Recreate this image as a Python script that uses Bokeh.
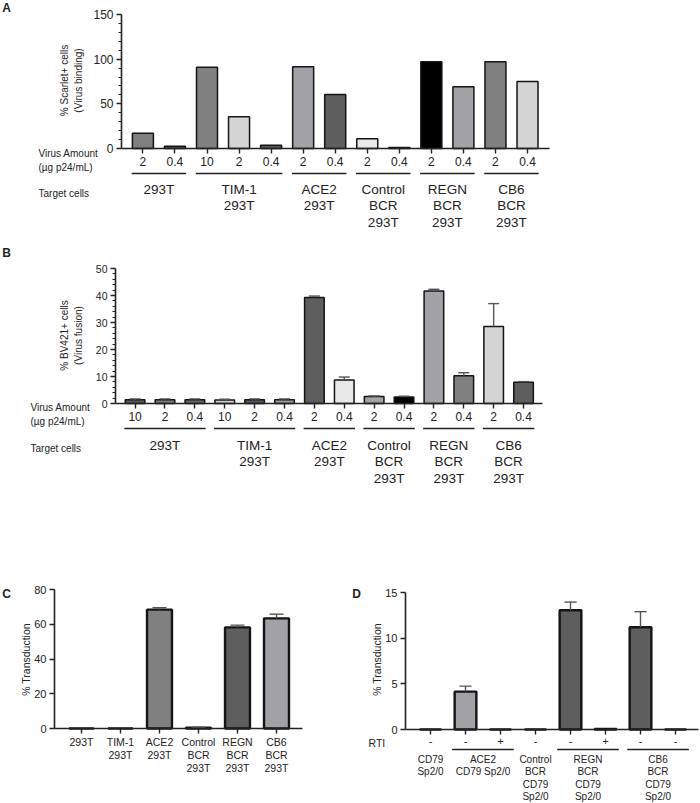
import math
from bokeh.plotting import figure
from bokeh.models import FixedTicker, Range1d, LinearAxis
from bokeh.layouts import column, row
from bokeh.embed import file_html
from bokeh.resources import INLINE
from bokeh.core.properties import value

FONT = "Liberation Sans"
INK = "#222222"
EDGE = "#141414"
WHISKER = "#555555"

# ---- Panel A: virus binding (% Scarlet+ cells) ----
amount_a = ["2", "0.4", "10", "2", "0.4", "2", "0.4", "2", "0.4", "2", "0.4", "2", "0.4"]
target_a = (["293T"] * 2 + ["TIM-1\n293T"] * 3 + ["ACE2\n293T"] * 2
            + ["Control\nBCR\n293T"] * 2 + ["REGN\nBCR\n293T"] * 2 + ["CB6\nBCR\n293T"] * 2)
binding_a = [17, 2.5, 91, 35.5, 3.5, 91.5, 60.5, 11, 1, 97, 69, 97, 75]
fill_a = ["#808080", "#5c5c5c", "#808080", "#d4d4d4", "#5c5c5c", "#a1a1a6", "#5e5e5e",
          "#e8e8e8", "#5c5c5c", "#000000", "#a1a1a6", "#808080", "#d4d4d4"]

# ---- Panel B: virus fusion (% BV421+ cells), mean + SD ----
amount_b = ["10", "2", "0.4", "10", "2", "0.4", "2", "0.4", "2", "0.4", "2", "0.4", "2", "0.4"]
target_b = (["293T"] * 3 + ["TIM-1\n293T"] * 3 + ["ACE2\n293T"] * 2
            + ["Control\nBCR\n293T"] * 2 + ["REGN\nBCR\n293T"] * 2 + ["CB6\nBCR\n293T"] * 2)
fusion_b = [1.4, 1.4, 1.4, 1.3, 1.4, 1.4, 39.3, 8.7, 2.6, 2.4, 41.7, 10.3, 28.5, 7.9]
sd_b = [0.3, 0.3, 0.3, 0.3, 0.3, 0.3, 0.5, 1.1, 0.2, 0.3, 0.6, 1.1, 8.5, 0.2]
fill_b = ["#5c5c5c", "#7c7c7c", "#6a6a6a", "#d0d0d0", "#5c5c5c", "#9c9ca0", "#5e5e5e",
          "#e8e8e8", "#a1a1a6", "#000000", "#a1a1a6", "#808080", "#d4d4d4", "#5e5e5e"]

# ---- Panel C: transduction of 293T lines ----
cells_c = ["293T", "TIM-1\n293T", "ACE2\n293T", "Control\nBCR\n293T", "REGN\nBCR\n293T", "CB6\nBCR\n293T"]
trans_c = [0, 0, 68.4, 0.5, 58.2, 63.4]
sd_c = [0, 0, 1.1, 0.2, 1.3, 2.4]
fill_c = ["#808080", "#808080", "#808080", "#000000", "#5e5e5e", "#a1a1a6"]

# ---- Panel D: transduction of CD79 Sp2/0 lines, with/without RTI ----
rti_d = ["-", "-", "+", "-", "-", "+", "-", "-"]
cells_d = ["CD79\nSp2/0", "ACE2\nCD79 Sp2/0", "ACE2\nCD79 Sp2/0", "Control\nBCR\nCD79\nSp2/0",
           "REGN\nBCR\nCD79\nSp2/0", "REGN\nBCR\nCD79\nSp2/0", "CB6\nBCR\nCD79\nSp2/0", "CB6\nBCR\nCD79\nSp2/0"]
trans_d = [0, 4.15, 0, 0, 13.05, 0.05, 11.2, 0]
sd_d = [0, 0.6, 0, 0, 0.9, 0, 1.7, 0]
fill_d = ["#a1a1a6", "#a1a1a6", "#a1a1a6", "#5e5e5e", "#5e5e5e", "#5e5e5e", "#5e5e5e", "#5e5e5e"]


def style_axis(ax, size):
    ax.axis_line_color = INK
    ax.axis_line_width = 1.6
    ax.major_tick_line_color = INK
    ax.major_tick_line_width = 1.4
    ax.major_tick_in = 0
    ax.minor_tick_line_color = INK
    ax.minor_tick_line_width = 1.2
    ax.minor_tick_in = 0
    ax.minor_tick_out = 3
    ax.major_label_text_font = FONT
    ax.major_label_text_font_size = size
    ax.major_label_text_color = INK


class Panel:
    """A bar panel whose frame fills the whole figure; the axes sit at fixed
    locations inside it so every annotation shares the bar coordinates."""

    def __init__(self, width, height, axis_px, end_px, top, zero, ymax, c0_px, step_px, n,
                 major, minor, ytick_size, xlabels, xtick_size, xlabel_gap):
        self.c0, self.step, self.zero = c0_px, step_px, zero
        self.ppu = (zero - top) / ymax
        self.xs = list(range(n))
        p = figure(width=width, height=height, output_backend="svg", toolbar_location=None,
                   x_range=Range1d(self.fx(0), self.fx(width)),
                   y_range=Range1d(self.fy(height), self.fy(0)),
                   x_axis_location=None, y_axis_location=None, min_border=0)
        p.outline_line_color = None
        p.grid.visible = False

        yax = LinearAxis(fixed_location=self.fx(axis_px), bounds=(0, ymax),
                         ticker=FixedTicker(ticks=major, minor_ticks=minor))
        style_axis(yax, ytick_size)
        yax.major_tick_out = 5
        yax.major_label_standoff = 3
        p.add_layout(yax, "left")

        xax = LinearAxis(fixed_location=0, bounds=(self.fx(axis_px), self.fx(end_px)),
                         ticker=FixedTicker(ticks=self.xs, minor_ticks=[]))
        style_axis(xax, xtick_size)
        xax.major_tick_out = 5
        xax.major_label_standoff = xlabel_gap
        if xlabels:
            xax.major_label_overrides = {i: t for i, t in zip(self.xs, xlabels)}
        else:
            xax.major_label_text_alpha = 0
        p.add_layout(xax, "below")
        self.p = p

    def fx(self, px):
        return (px - self.c0) / self.step

    def fy(self, py):
        return (self.zero - py) / self.ppu

    def bars(self, vals, fills, width, lw, sd=None):
        p = self.p
        p.vbar(x=self.xs, top=vals, bottom=0, width=width, fill_color=fills,
               line_color=EDGE, line_width=lw)
        if sd:
            idx = [i for i, e in enumerate(sd) if e > 0]
            xs = [self.xs[i] for i in idx]
            lo = [vals[i] for i in idx]
            hi = [vals[i] + sd[i] for i in idx]
            cap = width * 0.28
            p.segment(x0=xs, y0=lo, x1=xs, y1=hi, line_color=WHISKER, line_width=1.4)
            p.segment(x0=[x - cap for x in xs], y0=hi, x1=[x + cap for x in xs], y1=hi,
                      line_color=WHISKER, line_width=1.4)

    def groups(self, labels, line_py, text_top_py, size, line_height, pad, lines=True):
        runs, start = [], 0
        for i in range(1, len(labels) + 1):
            if i == len(labels) or labels[i] != labels[start]:
                runs.append((labels[start], start, i - 1))
                start = i
        gx0, gx1, gy, tx, tt = [], [], [], [], []
        for name, a, b in runs:
            if lines and b > a:
                gx0.append(self.xs[a] - pad)
                gx1.append(self.xs[b] + pad)
                gy.append(self.fy(line_py))
            tx.append((self.xs[a] + self.xs[b]) / 2)
            tt.append(name)
        if gx0:
            self.p.segment(x0=gx0, y0=gy, x1=gx1, y1=gy, line_color=INK, line_width=1.6)
        self.p.text(x=tx, y=[self.fy(text_top_py)] * len(tx), text=tt,
                    text_font=value(FONT), text_font_size=size, text_color=INK,
                    text_align="center", text_baseline="top", text_line_height=line_height)

    def note(self, text, px, py, size, align="left", bold=False, angle=0.0, line_height=1.2):
        self.p.text(x=[self.fx(px)], y=[self.fy(py)], text=[text], text_font=value(FONT),
                    text_font_size=size, text_color=INK, text_align=align,
                    text_baseline="middle", angle=angle,
                    text_font_style="bold" if bold else "normal", text_line_height=line_height)


# ---- A ----
A = Panel(700, 235, 121, 549, 14, 148, 150, 142.4, 32.05, len(binding_a),
          [0, 50, 100, 150], [v for v in range(10, 150, 10) if v % 50], "12px",
          amount_a, "12px", 3)
A.bars(binding_a, fill_a, 0.655, 1.5)
A.groups(target_a, 173, 181, "13.5px", 1.12, 0.35)
A.note("Virus Amount\n(\u00b5g p24/mL)", 38, 160, "10px")
A.note("Target cells", 38, 193, "10px")
A.note("% Scarlet+ cells\n(Virus binding)", 71, 80, "10px", align="center",
       angle=math.pi / 2, line_height=1.3)
A.note("A", 6, 7, "12px", align="center", bold=True)

# ---- B ----
B = Panel(700, 255, 115, 542.4, 33, 168, 50, 134.6, 29.88, len(fusion_b),
          [0, 10, 20, 30, 40, 50], [v for v in range(2, 50, 2) if v % 10], "10.5px",
          amount_b, "12px", 3)
B.bars(fusion_b, fill_b, 0.656, 1.5, sd_b)
B.groups(target_b, 193, 202, "13.5px", 1.12, 0.36)
B.note("Virus Amount\n(\u00b5g p24/mL)", 30, 179, "10px")
B.note("Target cells", 30, 213, "10px")
B.note("% BV421+ cells\n(Virus fusion)", 71, 100, "10px", align="center",
       angle=math.pi / 2, line_height=1.3)
B.note("B", 6, 17, "12px", align="center", bold=True)

# ---- C ----
C = Panel(350, 313, 54, 302, 99, 238, 80, 81, 39, len(trans_c),
          [0, 20, 40, 60, 80], [], "11px", None, "10px", 3)
C.bars(trans_c, fill_c, 0.64, 2.4, sd_c)
C.groups(cells_c, 0, 245.5, "10.5px", 1.1, 0, lines=False)
C.note("% Transduction", 25.5, 169, "10.5px", align="center", angle=math.pi / 2)
C.note("C", 6, 103, "12px", align="center", bold=True)

# ---- D ----
D = Panel(350, 313, 55, 348, 102, 239, 15, 80, 35, len(trans_d),
          [0, 5, 10, 15], [], "11px", rti_d, "11px", 2)
D.bars(trans_d, fill_d, 0.62, 2.4, sd_d)
D.groups(cells_d, 259, 263, "10px", 1.15, 0.38)
D.note("RTI", 18, 252, "10.5px")
D.note("% Transduction", 26.7, 169, "10.5px", align="center", angle=math.pi / 2)
D.note("D", 6, 103, "12px", align="center", bold=True)

layout = column(A.p, B.p, row(C.p, D.p))
with open("out.html", "w", encoding="utf-8") as f:
    f.write(file_html(layout, INLINE))
